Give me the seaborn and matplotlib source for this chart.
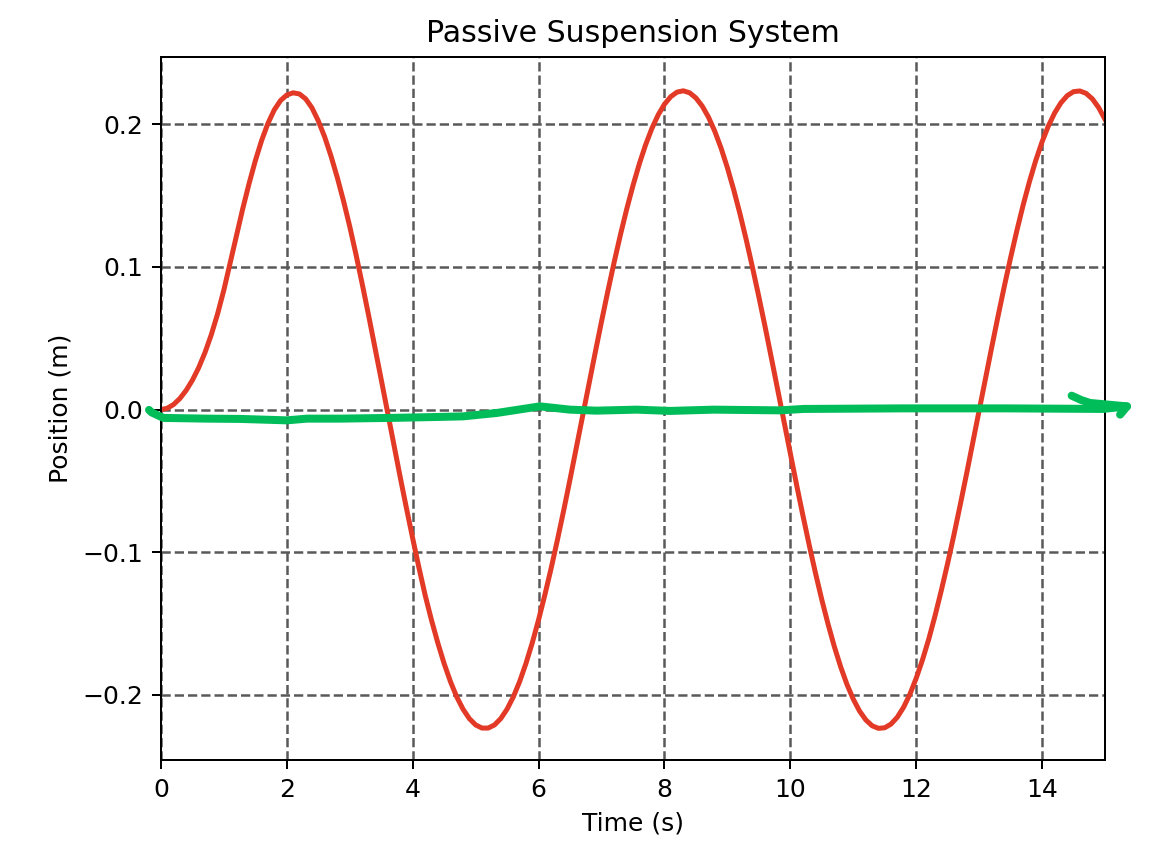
import pandas as pd
import matplotlib.pyplot as plt
import seaborn as sns

# --- values ---

time_s = [
    0.0, 0.1, 0.2, 0.3, 0.4, 0.5, 0.6, 0.7, 0.8, 0.9,
    1.0, 1.1, 1.2, 1.3, 1.4, 1.5, 1.6, 1.7, 1.8, 1.9,
    2.0, 2.1, 2.2, 2.3, 2.4, 2.5, 2.6, 2.7, 2.8, 2.9,
    3.0, 3.1, 3.2, 3.3, 3.4, 3.5, 3.6, 3.7, 3.8, 3.9,
    4.0, 4.1, 4.2, 4.3, 4.4, 4.5, 4.6, 4.7, 4.8, 4.9,
    5.0, 5.1, 5.2, 5.3, 5.4, 5.5, 5.6, 5.7, 5.8, 5.9,
    6.0, 6.1, 6.2, 6.3, 6.4, 6.5, 6.6, 6.7, 6.8, 6.9,
    7.0, 7.1, 7.2, 7.3, 7.4, 7.5, 7.6, 7.7, 7.8, 7.9,
    8.0, 8.1, 8.2, 8.3, 8.4, 8.5, 8.6, 8.7, 8.8, 8.9,
    9.0, 9.1, 9.2, 9.3, 9.4, 9.5, 9.6, 9.7, 9.8, 9.9,
    10.0, 10.1, 10.2, 10.3, 10.4, 10.5, 10.6, 10.7, 10.8, 10.9,
    11.0, 11.1, 11.2, 11.3, 11.4, 11.5, 11.6, 11.7, 11.8, 11.9,
    12.0, 12.1, 12.2, 12.3, 12.4, 12.5, 12.6, 12.7, 12.8, 12.9,
    13.0, 13.1, 13.2, 13.3, 13.4, 13.5, 13.6, 13.7, 13.8, 13.9,
    14.0, 14.1, 14.2, 14.3, 14.4, 14.5, 14.6, 14.7, 14.8, 14.9,
    15.0,
]

position_m = [
    0.0000, 0.0010, 0.0036, 0.0078, 0.0135, 0.0207, 0.0295, 0.0401, 0.0526, 0.0672,
    0.0840, 0.1030, 0.1222, 0.1410, 0.1585, 0.1746, 0.1888, 0.2007, 0.2101, 0.2167,
    0.2206, 0.2221, 0.2213, 0.2178, 0.2115, 0.2024, 0.1913, 0.1780, 0.1630, 0.1464,
    0.1283, 0.1085, 0.0876, 0.0659, 0.0436, 0.0210, -0.0018, -0.0245, -0.0470, -0.0690,
    -0.0903, -0.1110, -0.1305, -0.1478, -0.1637, -0.1781, -0.1907, -0.2014, -0.2100, -0.2166,
    -0.2210, -0.2232, -0.2232, -0.2210, -0.2165, -0.2099, -0.2012, -0.1905, -0.1778, -0.1634,
    -0.1473, -0.1298, -0.1111, -0.0912, -0.0704, -0.0488, -0.0267, -0.0044, 0.0179, 0.0400,
    0.0618, 0.0829, 0.1032, 0.1225, 0.1405, 0.1571, 0.1722, 0.1856, 0.1971, 0.2066,
    0.2141, 0.2194, 0.2226, 0.2235, 0.2221, 0.2185, 0.2128, 0.2050, 0.1951, 0.1833,
    0.1696, 0.1542, 0.1373, 0.1190, 0.0995, 0.0791, 0.0579, 0.0360, 0.0137, -0.0086,
    -0.0308, -0.0528, -0.0742, -0.0949, -0.1146, -0.1332, -0.1504, -0.1662, -0.1803, -0.1926,
    -0.2029, -0.2113, -0.2175, -0.2216, -0.2234, -0.2230, -0.2204, -0.2156, -0.2086, -0.1995,
    -0.1883, -0.1754, -0.1608, -0.1444, -0.1266, -0.1077, -0.0877, -0.0667, -0.0451, -0.0230,
    -0.0007, 0.0216, 0.0437, 0.0654, 0.0864, 0.1065, 0.1256, 0.1435, 0.1599, 0.1747,
    0.1877, 0.1988, 0.2080, 0.2151, 0.2201, 0.2229, 0.2234, 0.2217, 0.2178, 0.2117,
    0.2035,
]

# hand-drawn green marker stroke over the plot (ends in a small arrow hook)
green_t = [-0.19, -0.15, 0.04, 0.73, 1.26, 2.00, 2.32, 2.84, 3.64, 4.43, 4.80,
           5.34, 6.02, 6.50, 6.92, 7.56, 8.09, 8.78, 9.84, 10.21, 11.80,
           13.39, 14.97, 15.35, 15.24]
green_y = [-0.0002, -0.0019, -0.0058, -0.0063, -0.0065, -0.0075, -0.0063, -0.0063,
           -0.0058, -0.0051, -0.0047, -0.0023, 0.0023, 0.0000, -0.0007, 0.0000,
           -0.0009, 0.0000, -0.0005, 0.0005, 0.0009, 0.0009, 0.0005, 0.0023,
           -0.0035]
barb_t = [14.47, 14.62, 14.76, 15.35]
barb_y = [0.0098, 0.0068, 0.0047, 0.0023]

df = pd.DataFrame({"Time (s)": time_s, "Position (m)": position_m})

fig = plt.figure(figsize=(1149 / 180, 847 / 180), dpi=180)
ax = fig.add_axes([0.1401, 0.1027, 0.8216, 0.8300])

sns.lineplot(data=df, x="Time (s)", y="Position (m)", color="#e23a26",
             linewidth=2, ax=ax)

ax.plot(green_t, green_y, color="#00bd5a", linewidth=3.2, clip_on=False,
        solid_capstyle="round", solid_joinstyle="round", zorder=5)
ax.plot(barb_t, barb_y, color="#00bd5a", linewidth=3.2, clip_on=False,
        solid_capstyle="round", solid_joinstyle="round", zorder=5)

ax.set_xlim(0, 15)
ax.set_ylim(-0.2456, 0.2472)
ax.set_yticks([-0.2, -0.1, 0.0, 0.1, 0.2])
ax.grid(True, linestyle="--", color="0.35", linewidth=1)
ax.set_title("Passive Suspension System", fontsize=12)
ax.set_xlabel("Time (s)")
ax.set_ylabel("Position (m)")

fig.savefig("out.png", dpi=180)
